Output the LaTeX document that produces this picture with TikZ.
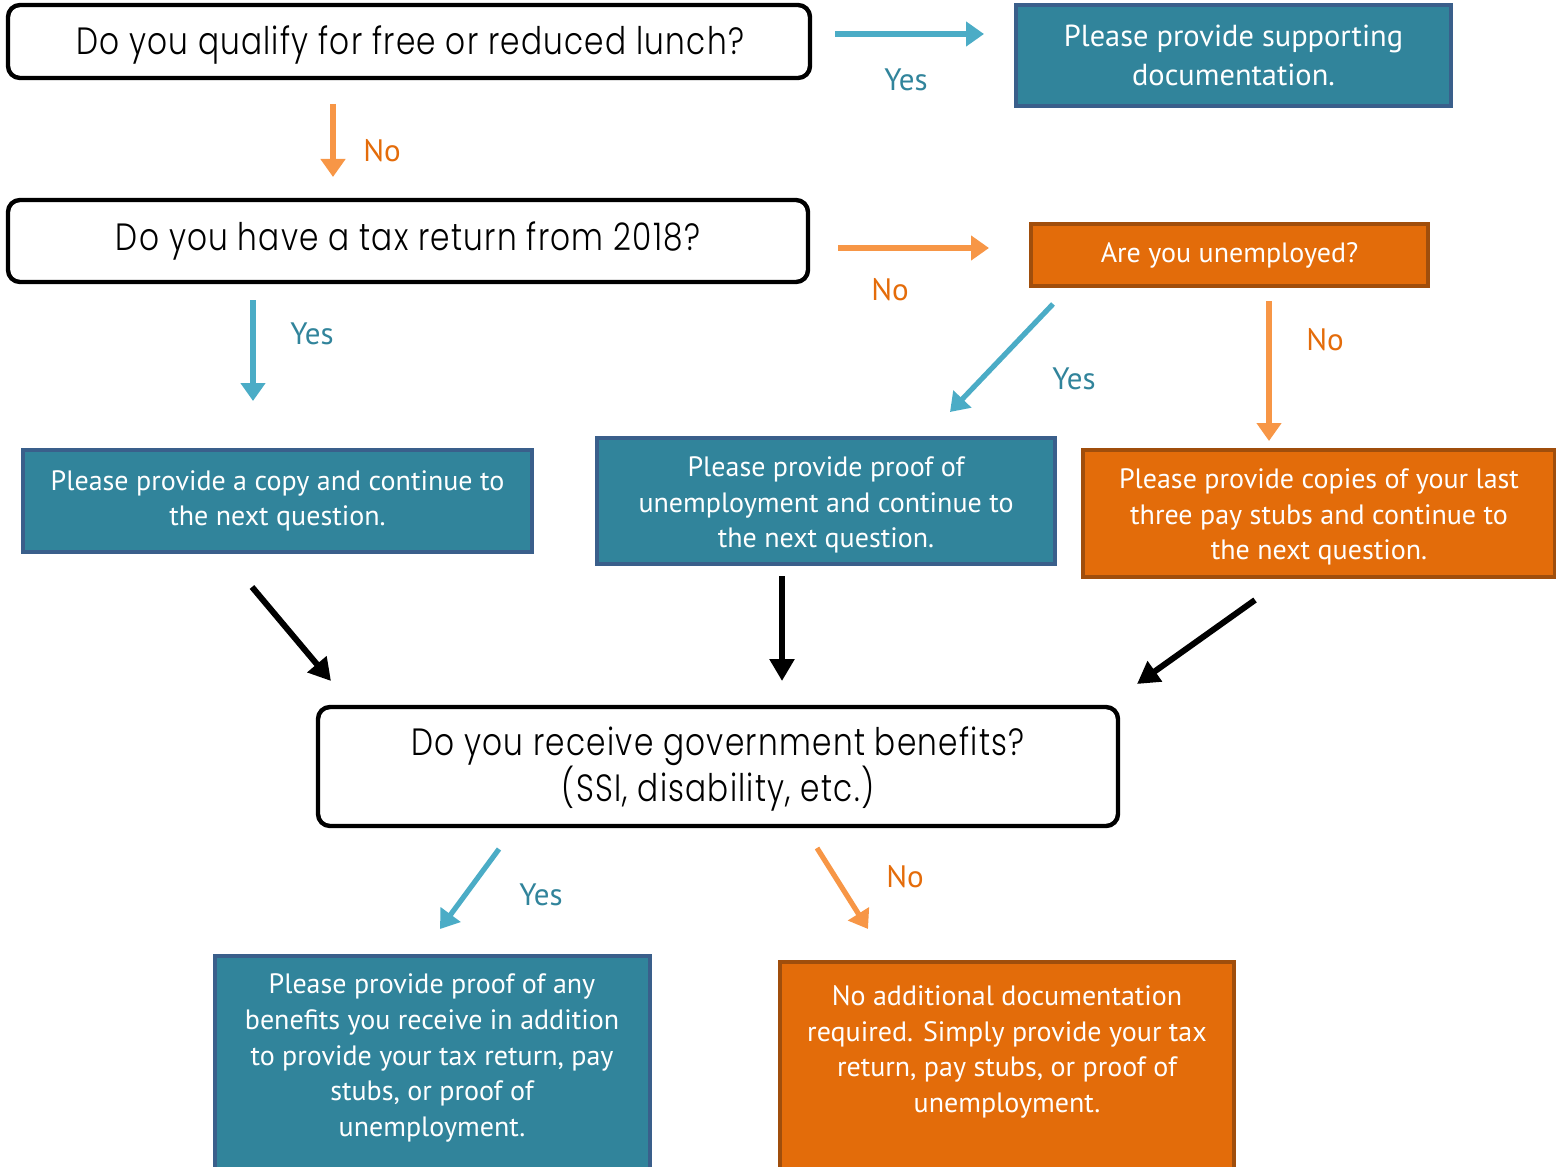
\documentclass[tikz,border=0pt]{standalone}
\usepackage{fontspec}
\usepackage{graphicx}
\setmainfont{PT Sans}
\newfontfamily\qfont{Poppins Light}[LetterSpace=4]
\usetikzlibrary{arrows.meta}
\definecolor{tealfill}{HTML}{31849B}
\definecolor{tealedge}{HTML}{3A5F8B}
\definecolor{orgfill}{HTML}{E36C0A}
\definecolor{orgedge}{HTML}{A04E0C}
\definecolor{tealarrow}{HTML}{4BACC6}
\definecolor{orgarrow}{HTML}{F79646}
\definecolor{yeslab}{HTML}{31849B}
\definecolor{nolab}{HTML}{E46C0A}
\newcommand\qtext[1]{\scalebox{0.82}[1]{#1}}
\tikzset{
  qbox/.style={draw=black, line width=2.2pt, rounded corners=6pt, fill=white, align=center,
    font=\qfont\fontsize{19}{21.5}\selectfont, inner sep=0pt},
  tbox/.style={draw=tealedge, line width=2pt, fill=tealfill, text=white, align=center,
    font=\fontsize{14}{17.8}\selectfont, inner sep=0pt},
  obox/.style={draw=orgedge, line width=2pt, fill=orgfill, text=white, align=center,
    font=\fontsize{14}{17.8}\selectfont, inner sep=0pt},
  wtext/.style={text=white, align=center, font=\fontsize{14}{17.8}\selectfont, inner sep=0pt},
  yeslabel/.style={text=yeslab, font=\fontsize{15.5}{17}\selectfont, inner sep=0pt},
  nolabel/.style={text=nolab, font=\fontsize{15.5}{17}\selectfont, inner sep=0pt},
  tarrow/.style={draw=tealarrow, line width=2.6pt, -{Triangle[length=9pt,width=12pt]}},
  oarrow/.style={draw=orgarrow, line width=2.6pt, -{Triangle[length=9pt,width=12pt]}},
  karrow/.style={draw=black, line width=3pt, -{Triangle[length=11pt,width=12pt]}},
}
\begin{document}
\begin{tikzpicture}[x=0.5pt,y=-0.5pt]
\useasboundingbox (0,0) rectangle (1556,1166);
\clip (0,0) rectangle (1556,1166);
% boxes
\node[qbox, minimum width=401pt, minimum height=36.5pt] (q1) at (409,41.5) {};
\node[qbox, draw=none, fill=none] (q1text) at (410,45) {\qtext{Do you qualify for free or reduced lunch?}};
\node[tbox, minimum width=217.5pt, minimum height=50.5pt, font=\fontsize{15.2}{19.5}\selectfont] (doc) at (1233.5,55.5) {Please provide supporting\\documentation.};
\node[qbox, minimum width=400pt, minimum height=41pt] (q2) at (408,241) {\qtext{Do you have a tax return from 2018?}};
\node[obox, minimum width=198.5pt, minimum height=31pt] (unemp) at (1229.5,255) {Are you unemployed?};
\node[tbox, minimum width=254.5pt, minimum height=51pt] (copy) at (277.5,501) {Please provide a copy and continue to\\the next question.};
\node[tbox, minimum width=229pt, minimum height=63pt] (proof) at (826,501) {};
\node[wtext] (prooftext) at (826,505) {Please provide proof of\\unemployment and continue to\\the next question.};
\node[obox, minimum width=236pt, minimum height=63.5pt] (stubs) at (1319,513.5) {};
\node[wtext] (stubstext) at (1319,517) {Please provide copies of your last\\three pay stubs and continue to\\the next question.};
\node[qbox, minimum width=400pt, minimum height=59.5pt] (q3) at (718,766.5) {};
\node[qbox, draw=none, fill=none, font=\qfont\fontsize{19}{21.5}\selectfont] (q3text) at (718,769) {\qtext{Do you receive government benefits?}\\[-1pt]\qtext{(SSI, disability, etc.)}};
\node[tbox, minimum width=217.5pt, minimum height=115pt] (ben) at (432.5,1071) {};
\node[wtext] (bentext) at (432,1058) {Please provide proof of any\\benefits you receive in addition\\to provide your tax return, pay\\stubs, or proof of\\unemployment.};
\node[obox, minimum width=227pt, minimum height=115pt] (none) at (1007,1077) {};
\node[wtext] (nonetext) at (1007,1052) {No additional documentation\\required. Simply provide your tax\\return, pay stubs, or proof of\\unemployment.};
% arrow end points
\coordinate (a1s) at (835,34);   \coordinate (a1e) at (984,34);
\coordinate (a2s) at (333,104);  \coordinate (a2e) at (333,177);
\coordinate (a3s) at (838,248);  \coordinate (a3e) at (989,248);
\coordinate (a4s) at (253,300);  \coordinate (a4e) at (253,401);
\coordinate (a5s) at (1053,304); \coordinate (a5e) at (950,412);
\coordinate (a6s) at (1269,301); \coordinate (a6e) at (1269,441);
\coordinate (b1s) at (252,587);  \coordinate (b1e) at (331,681);
\coordinate (b2s) at (782,576);  \coordinate (b2e) at (782,681);
\coordinate (b3s) at (1255,600); \coordinate (b3e) at (1137,684);
\coordinate (a7s) at (499,849);  \coordinate (a7e) at (440,929);
\coordinate (a8s) at (817,848);  \coordinate (a8e) at (868,929);
% arrows
\draw[tarrow] (a1s) -- (a1e);
\draw[oarrow] (a2s) -- (a2e);
\draw[oarrow] (a3s) -- (a3e);
\draw[tarrow] (a4s) -- (a4e);
\draw[tarrow] (a5s) -- (a5e);
\draw[oarrow] (a6s) -- (a6e);
\draw[karrow] (b1s) -- (b1e);
\draw[karrow] (b2s) -- (b2e);
\draw[karrow] (b3s) -- (b3e);
\draw[tarrow] (a7s) -- (a7e);
\draw[oarrow] (a8s) -- (a8e);
% labels
\node[yeslabel] (l1) at (906,80) {Yes};
\node[nolabel] (l2) at (382,151) {No};
\node[nolabel] (l3) at (890,290) {No};
\node[yeslabel] (l4) at (312,334) {Yes};
\node[yeslabel] (l5) at (1074,379) {Yes};
\node[nolabel] (l6) at (1325,340) {No};
\node[yeslabel] (l7) at (541,895) {Yes};
\node[nolabel] (l8) at (905,877) {No};
\end{tikzpicture}
\end{document}
